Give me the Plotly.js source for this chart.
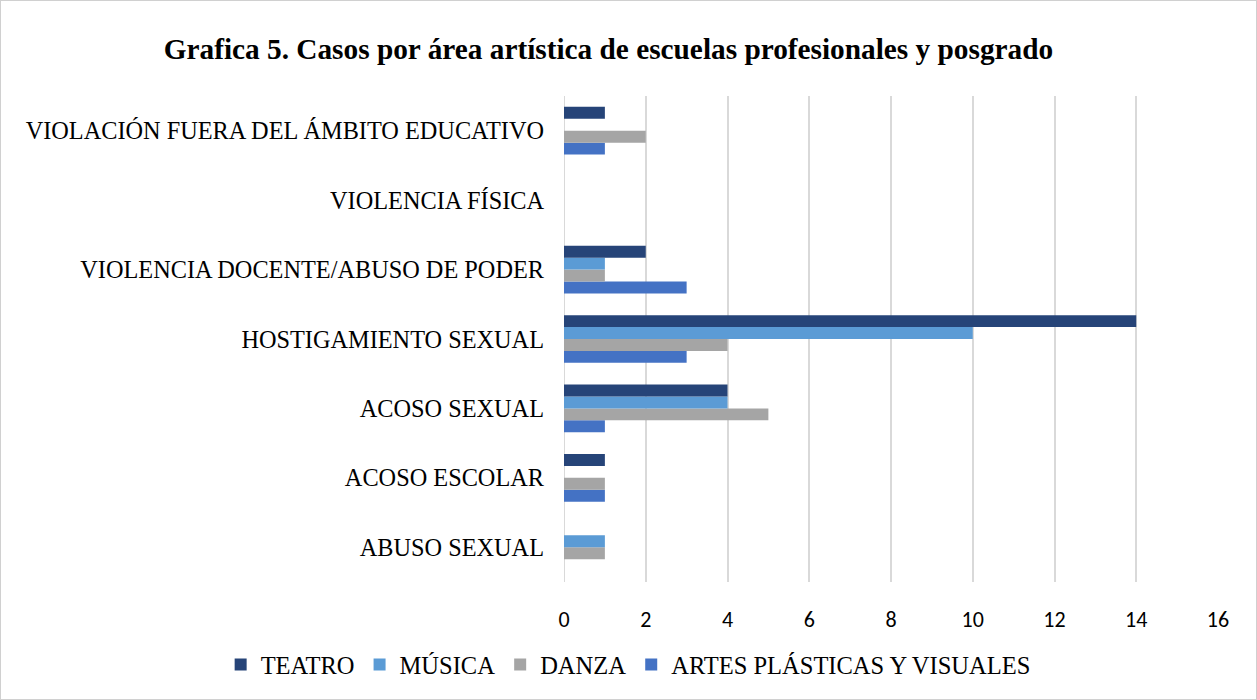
<!DOCTYPE html>
<html><head><meta charset="utf-8">
<script src="https://cdn.plot.ly/plotly-3.0.1.min.js"></script>
<style>
html,body{margin:0;padding:0;background:#fff;}
#chart{width:1255px;height:698px;border:1px solid #d0d0d0;}
</style></head>
<body><div id="chart"></div>
<script>
const categories = ["ABUSO SEXUAL","ACOSO ESCOLAR","ACOSO SEXUAL","HOSTIGAMIENTO SEXUAL","VIOLENCIA DOCENTE/ABUSO DE PODER","VIOLENCIA FÍSICA","VIOLACIÓN FUERA DEL ÁMBITO EDUCATIVO"];
const teatro = [0,1,4,14,2,0,1];
const musica = [1,0,4,10,1,0,0];
const danza = [1,1,5,4,1,0,2];
const artes = [0,1,1,3,3,0,1];
const seriesNames = ["TEATRO","MÚSICA","DANZA","ARTES PLÁSTICAS Y VISUALES"];
const seriesColors = ["#264478","#5B9BD5","#A5A5A5","#4472C4"];
const seriesValues = [teatro, musica, danza, artes];
const xTicks = [0,2,4,6,8,10,12,14,16];

const traces = [];
for (let i = seriesValues.length - 1; i >= 0; i--) {
  traces.push({
    type: 'bar', orientation: 'h',
    name: seriesNames[i],
    y: categories, x: seriesValues[i],
    marker: {color: seriesColors[i]},
    hoverinfo: 'x+name'
  });
}
const layout = {
  width: 1255, height: 698,
  paper_bgcolor: '#fff', plot_bgcolor: '#fff',
  margin: {l: 563, r: 38, t: 95, b: 114},
  barmode: 'group', bargap: 0.313, bargroupgap: 0,
  title: {text: '<b>Grafica 5. Casos por área artística de escuelas profesionales y posgrado</b>',
    font: {family: 'Liberation Serif, Times New Roman, serif', size: 29.3, color: '#000'},
    xref: 'container', x: 0.484, xanchor: 'center', yref: 'container', y: 0.932, yanchor: 'middle'},
  xaxis: {range: [0, 16], tickvals: xTicks, showgrid: true, gridcolor: '#d9d9d9', gridwidth: 2,
    zeroline: false, showline: false, ticks: '', ticklabelstandoff: 22,
    tickfont: {family: 'Carlito, Liberation Sans, Arial, sans-serif', size: 22, color: '#000'}},
  yaxis: {type: 'category', categoryorder: 'array', categoryarray: categories,
    showgrid: false, zeroline: false, showline: false, ticks: '', ticklabelstandoff: 19,
    tickfont: {family: 'Liberation Serif, Times New Roman, serif', size: 24.3, color: '#000'}},
  shapes: [{type: 'line', xref: 'x', yref: 'paper', x0: 0, x1: 0, y0: 0, y1: 1,
    line: {color: '#d9d9d9', width: 2}, layer: 'below'}],
  legend: {orientation: 'h', traceorder: 'reversed', xref: 'paper', yref: 'paper',
    x: -0.525, xanchor: 'left', y: -0.17, yanchor: 'middle',
    font: {family: 'Liberation Serif, Times New Roman, serif', size: 24.5, color: '#000'},
    itemwidth: 30, tracegroupgap: 0},
  showlegend: true
};
Plotly.newPlot('chart', traces, layout, {displayModeBar: false, staticPlot: true});
</script></body></html>
